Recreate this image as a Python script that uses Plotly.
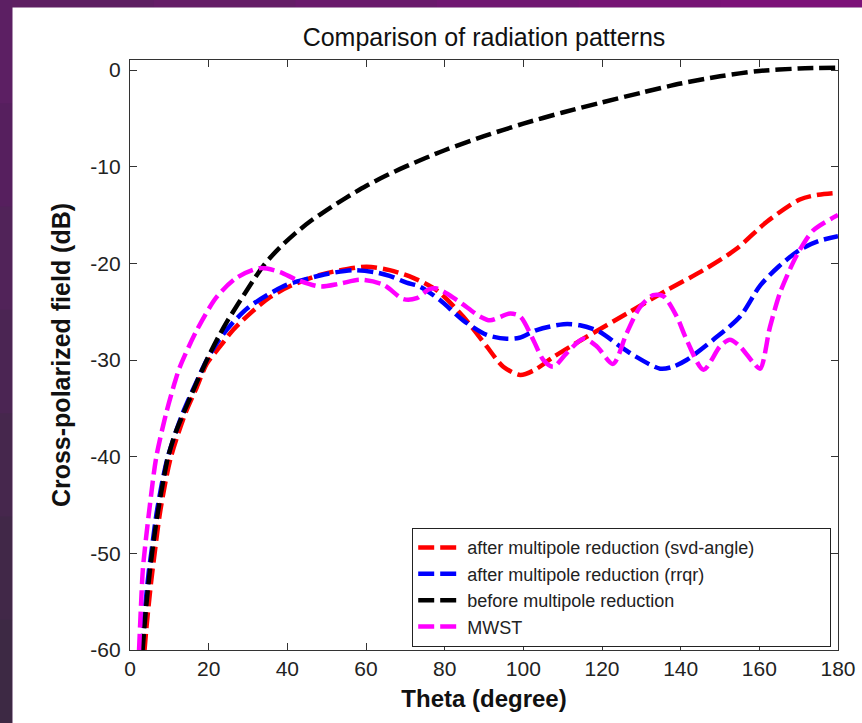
import plotly.graph_objects as go

# ---------------- data ----------------
theta_svd = [3.7, 4.2, 5.3, 6.2, 7.7, 10.3, 14.0, 17.0, 19.5, 22.9, 26.2, 30.5, 35.6, 41.0, 48.3,
             55.0, 60.2, 66.0, 72.0, 78.0, 84.7, 90.7, 94.9, 99.2, 103.0, 107.6, 116.1, 126.3,
             136.4, 145.8, 154.2, 161.9, 170.3, 175.0, 180.0]
db_svd = [-60, -57.6, -53.2, -50.2, -45.6, -40.2, -35.6, -32.8, -30.4, -28.6, -26.9, -25.2, -23.5, -22.3, -21.2,
          -20.6, -20.35, -20.7, -21.5, -22.8, -25.5, -28.6, -30.7, -31.55, -31.0, -29.7, -27.6, -25.2,
          -22.8, -20.7, -18.5, -15.7, -13.4, -12.9, -12.7]

theta_rrqr = [3.0, 3.4, 4.1, 4.8, 5.4, 6.9, 9.5, 13.3, 17.2, 19.5, 22.5, 26.0, 30.0, 34.8, 40.0, 45.0,
              50.0, 56.8, 62.0, 66.0, 70.3, 73.7, 78.8, 84.7, 90.7, 95.8, 99.0, 103.4, 110.2, 114.4,
              119.5, 124.6, 128.8, 134.8, 138.0, 141.5, 148.3, 155.1, 160.2, 165.0, 170.3, 175.0, 180.0]
db_rrqr = [-60, -57.8, -54.5, -51.8, -50, -45.5, -40.2, -35.6, -32, -30, -28, -26.2, -24.6, -23.3, -22.2, -21.6,
           -21.1, -20.7, -20.9, -21.3, -22.0, -22.4, -23.8, -25.9, -27.4, -27.8, -27.7, -26.9, -26.3, -26.4,
           -27.1, -28.6, -29.7, -30.9, -30.7, -30.0, -27.9, -25.5, -22.3, -20.3, -18.6, -17.7, -17.2]

theta_before = [3.2, 3.6, 4.3, 5.0, 5.6, 6.5, 7.3, 8.5, 9.7, 11.5, 13.5, 15.5, 17.3, 20, 22.5, 25, 30,
                34, 38, 42, 46, 50, 55, 60, 65, 70, 80, 90, 100, 110, 120, 130, 140, 150, 160, 170, 180]
db_before = [-60, -57.9, -54.7, -52.0, -50.0, -47.3, -45.2, -42.4, -40.0, -37.6, -35.6, -33.7, -32.0,
             -29.6, -27.6, -25.8, -22.6, -20.2, -18.4, -16.9, -15.6, -14.5, -13.2, -12.0, -10.95, -10.0,
             -8.3, -6.85, -5.55, -4.4, -3.35, -2.35, -1.4, -0.65, -0.1, 0.15, 0.25]

theta_mwst = [2.3, 2.9, 3.3, 5.0, 6.7, 9.2, 11.4, 12.7, 17.0, 22.0, 27.1, 33.0, 38.1, 42.4, 48.3, 53.4,
              58.5, 64.4, 69.5, 72.9, 76.0, 78.0, 83.1, 89.0, 91.5, 96.6, 99.2, 102.5, 105.1, 107.6,
              111.0, 115.3, 118.7, 122.8, 126.3, 129.7, 133.0, 135.6, 139.0, 141.5, 145.8, 150.0,
              152.5, 155.1, 158.5, 160.2, 162.7, 165.3, 168.6, 170.3, 173.7, 180.0]
db_mwst = [-60, -54.5, -51.5, -45.2, -40, -35.5, -32.3, -30.7, -26.9, -23.5, -21.5, -20.5, -20.9, -21.7,
           -22.4, -22.1, -21.7, -22.2, -23.7, -23.6, -22.7, -22.6, -23.8, -25.5, -25.9, -25.2, -25.5,
           -27.9, -30.0, -30.7, -29.3, -27.8, -28.6, -30.4, -27.2, -24.5, -23.3, -23.4, -25.5, -27.9,
           -31.0, -28.6, -27.9, -28.6, -30.3, -30.9, -26.6, -23.0, -19.9, -18.6, -16.6, -15.0]

series_names = ["after multipole reduction (svd-angle)", "after multipole reduction (rrqr)",
                "before multipole reduction", "MWST"]
series_colors = ["#ff0000", "#0000ff", "#000000", "#ff00ff"]

x_ticks = [0, 20, 40, 60, 80, 100, 120, 140, 160, 180]
y_ticks = [-60, -50, -40, -30, -20, -10, 0]
y_tick_text = ["-60", "-50", "-40", "-30", "-20", "-10", "0"]

# ---------------- figure ----------------
W, H = 862, 723
ML, MR, MT, MB = 130, 24, 60, 73
FONT = "Liberation Sans, Arial, sans-serif"

fig = go.Figure()
for i, (xs, ys, name, col) in enumerate(zip([theta_svd, theta_rrqr, theta_before, theta_mwst],
                                            [db_svd, db_rrqr, db_before, db_mwst],
                                            series_names, series_colors)):
    label = name + ("\u00a0" * 14 if i == 0 else "")  # widen legend box like the reference
    fig.add_trace(go.Scatter(x=xs, y=ys, name=label, mode="lines",
                             line=dict(color=col, width=4.5, dash="16px,6px",
                                       shape="spline", smoothing=0.8)))

# background: purple frame with white panel
pw = W - ML - MR
ph = H - MT - MB
def px2x(px):
    return (px - ML) / pw
def py2y(py):
    return (H - MB - py) / ph

shapes = []
left_cols = ["#5c1f63", "#561f5e", "#512359", "#4b2553", "#46274d", "#412848", "#3d2944"]
n = len(left_cols)
for i, c in enumerate(left_cols):
    shapes.append(dict(type="rect", xref="paper", yref="paper", layer="below",
                       x0=px2x(-2), x1=px2x(12.5), y0=py2y(i * H / n), y1=py2y((i + 1) * H / n + 1),
                       fillcolor=c, line=dict(width=0)))
top_cols = ["#5e1f62", "#641d66", "#6a1a6c", "#701771", "#761474", "#7c1278"]
n = len(top_cols)
for i, c in enumerate(top_cols):
    shapes.append(dict(type="rect", xref="paper", yref="paper", layer="below",
                       x0=px2x(12 + i * (W - 12) / n), x1=px2x(12 + (i + 1) * (W - 12) / n + 1),
                       y0=py2y(7.5), y1=py2y(-2),
                       fillcolor=c, line=dict(width=0)))
shapes.append(dict(type="rect", xref="paper", yref="paper", layer="below",
                   x0=px2x(12.5), x1=px2x(W + 2), y0=py2y(H + 2), y1=py2y(7.5),
                   fillcolor="white", line=dict(width=0)))

axis_common = dict(showgrid=False, zeroline=False, showline=True, linecolor="#333333", linewidth=1.2,
                   mirror="ticks", ticks="inside", ticklen=7, tickwidth=1.2, tickcolor="#333333",
                   tickfont=dict(family=FONT, size=21, color="#222222"))

fig.update_layout(
    width=W, height=H,
    margin=dict(l=ML, r=MR, t=MT, b=MB, autoexpand=False),
    paper_bgcolor="#5a2060",
    plot_bgcolor="white",
    shapes=shapes,
    title=dict(text="Comparison of radiation patterns", x=0.5, xref="paper",
               y=1 - 37 / H, yref="container", yanchor="middle", xanchor="center",
               font=dict(family=FONT, size=25, color="#111111")),
    xaxis=dict(range=[0, 180], tickvals=x_ticks, ticktext=[str(v) for v in x_ticks],
               title=dict(text="<b>Theta (degree)</b>", standoff=10,
                          font=dict(family=FONT, size=24, color="#111111")),
               **axis_common),
    yaxis=dict(range=[-60, 10 / 9.667], tickvals=y_ticks, ticktext=y_tick_text,
               ticklabelstandoff=4,
               title=dict(text="<b>Cross-polarized field (dB)</b>", standoff=12,
                          font=dict(family=FONT, size=25, color="#111111")),
               **axis_common),
    legend=dict(x=px2x(412), y=py2y(528), xanchor="left", yanchor="top",
                bgcolor="white", bordercolor="#222222", borderwidth=1.2,
                font=dict(family=FONT, size=18, color="#222222"),
                itemwidth=44, tracegroupgap=0),
    showlegend=True,
)

fig.write_html("out.html", config={"displayModeBar": False},
               post_script="document.body.style.margin='0px';document.body.style.overflow='hidden';")
